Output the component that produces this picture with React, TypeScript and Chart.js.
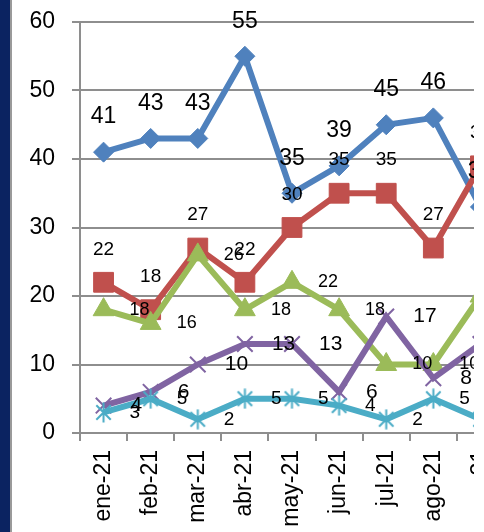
import React, { useEffect, useRef } from 'react';
import { Chart, registerables } from 'chart.js';

Chart.register(...registerables);

const categories = ['ene-21', 'feb-21', 'mar-21', 'abr-21', 'may-21', 'jun-21', 'jul-21', 'ago-21', 'sep-21'];
const serie1 = [41, 43, 43, 55, 35, 39, 45, 46, 33];
const serie2 = [22, 18, 27, 22, 30, 35, 35, 27, 39];
const serie3 = [18, 16, 26, 18, 22, 18, 10, 10, 20];
const serie4 = [4, 6, 10, 13, 13, 6, 17, 8, 13];
const serie5 = [3, 5, 2, 5, 5, 4, 2, 5, 2];
const yTicks = [0, 10, 20, 30, 40, 50, 60];

const FONT = '"Liberation Sans", Arial, sans-serif';
const GRID = '#8e8e8e';

const labelStyles = [
  { pos: 'top', off: 35, size: 23 },
  { pos: 'top', off: 33, size: 19 },
  { pos: 'right', off: 26, size: 18 },
  { pos: 'right', off: 27, size: 21 },
  { pos: 'right', off: 26, size: 19 },
];

function makeAsterisk(color: string, size: number, lw: number) {
  const c = document.createElement('canvas');
  c.width = size;
  c.height = size;
  const g = c.getContext('2d')!;
  g.strokeStyle = color;
  g.lineWidth = lw;
  const m = size / 2;
  const r = size / 2 - 0.5;
  const d = r * 0.72;
  g.beginPath();
  g.moveTo(m, m - r);
  g.lineTo(m, m + r);
  g.moveTo(m - d, m - d);
  g.lineTo(m + d, m + d);
  g.moveTo(m + d, m - d);
  g.lineTo(m - d, m + d);
  g.stroke();
  return c;
}

const valueLabels = {
  id: 'valueLabels',
  afterDatasetsDraw(chart: any) {
    const ctx = chart.ctx;
    chart.data.datasets.forEach((ds: any, i: number) => {
      const meta = chart.getDatasetMeta(i);
      const st = labelStyles[i];
      ctx.save();
      ctx.font = `${st.size}px ${FONT}`;
      ctx.fillStyle = '#000';
      ctx.textBaseline = 'middle';
      meta.data.forEach((pt: any, j: number) => {
        const v = ds.data[j];
        if (st.pos === 'top') {
          ctx.textAlign = 'center';
          ctx.fillText(String(v), pt.x, pt.y - st.off);
        } else {
          ctx.textAlign = 'left';
          ctx.fillText(String(v), pt.x + st.off, pt.y);
        }
      });
      ctx.restore();
    });
  },
};

export default function App() {
  const ref = useRef<HTMLCanvasElement>(null);

  useEffect(() => {
    if (!ref.current) return;
    const cyan = '#4BACC6';
    const asterisk = makeAsterisk(cyan, 21, 2);
    const mk = (label: string, data: number[], color: string, style: any, radius: number, order: number, extra: any = {}) => ({
      label,
      data,
      borderColor: color,
      backgroundColor: color,
      pointBackgroundColor: color,
      pointBorderColor: color,
      borderWidth: 6,
      pointStyle: style,
      pointRadius: radius,
      pointBorderWidth: 1,
      tension: 0,
      order,
      ...extra,
    });
    const chart = new Chart(ref.current, {
      type: 'line',
      data: {
        labels: categories,
        datasets: [
          mk('Serie 1', serie1, '#4F81BD', 'rectRot', 10, 5),
          mk('Serie 2', serie2, '#C0504D', 'rect', 14, 4),
          mk('Serie 3', serie3, '#9BBB59', 'triangle', 12, 3),
          mk('Serie 4', serie4, '#8064A2', 'crossRot', 11, 2, { pointBorderWidth: 2 }),
          mk('Serie 5', serie5, cyan, asterisk, 10, 1),
        ],
      },
      options: {
        animation: false,
        responsive: false,
        devicePixelRatio: 1,
        layout: { padding: { top: 22, left: 0, right: 0, bottom: 0 } },
        plugins: {
          legend: { display: false },
          tooltip: { enabled: false },
        },
        scales: {
          x: {
            offset: true,
            afterFit: (s: any) => {
              s.height = 99;
              s.paddingLeft = 0;
              s.paddingRight = 0;
              s.paddingTop = 0;
              s.paddingBottom = 0;
            },
            grid: {
              offset: true,
              drawOnChartArea: false,
              drawTicks: true,
              tickLength: 8,
              color: GRID,
              lineWidth: 2,
            },
            border: { display: true, color: GRID, width: 2 },
            ticks: {
              autoSkip: false,
              minRotation: 90,
              maxRotation: 90,
              padding: 9,
              color: '#000',
              font: { family: FONT, size: 23 },
            },
          },
          y: {
            min: yTicks[0],
            max: yTicks[yTicks.length - 1],
            afterFit: (s: any) => {
              s.width = 80;
              s.paddingTop = 0;
              s.paddingBottom = 0;
              s.paddingLeft = 0;
              s.paddingRight = 0;
            },
            afterBuildTicks: (s: any) => { s.ticks = yTicks.map((v) => ({ value: v })); },
            grid: { color: GRID, lineWidth: 2, tickLength: 8, drawTicks: true },
            border: { display: true, color: GRID, width: 2 },
            ticks: {
              padding: 17,
              color: '#000',
              font: { family: FONT, size: 23 },
            },
          },
        },
      },
      plugins: [valueLabels],
    });
    return () => chart.destroy();
  }, []);

  return (
    <div style={{ position: 'fixed', left: 0, top: 0, width: 484, height: 532, background: '#fff', overflow: 'hidden' }}>
      <div style={{ position: 'absolute', left: 0, top: 0, width: 474, height: 532, overflow: 'hidden' }}>
        <canvas ref={ref} width={519} height={532} style={{ display: 'block', width: 519, height: 532 }} />
      </div>
      <div style={{ position: 'absolute', left: 0, top: 0, width: 10, height: 532, background: '#0B2361' }} />
      <div style={{ position: 'absolute', left: 10, top: 0, width: 2, height: 532, background: '#9a9a9a' }} />
    </div>
  );
}
